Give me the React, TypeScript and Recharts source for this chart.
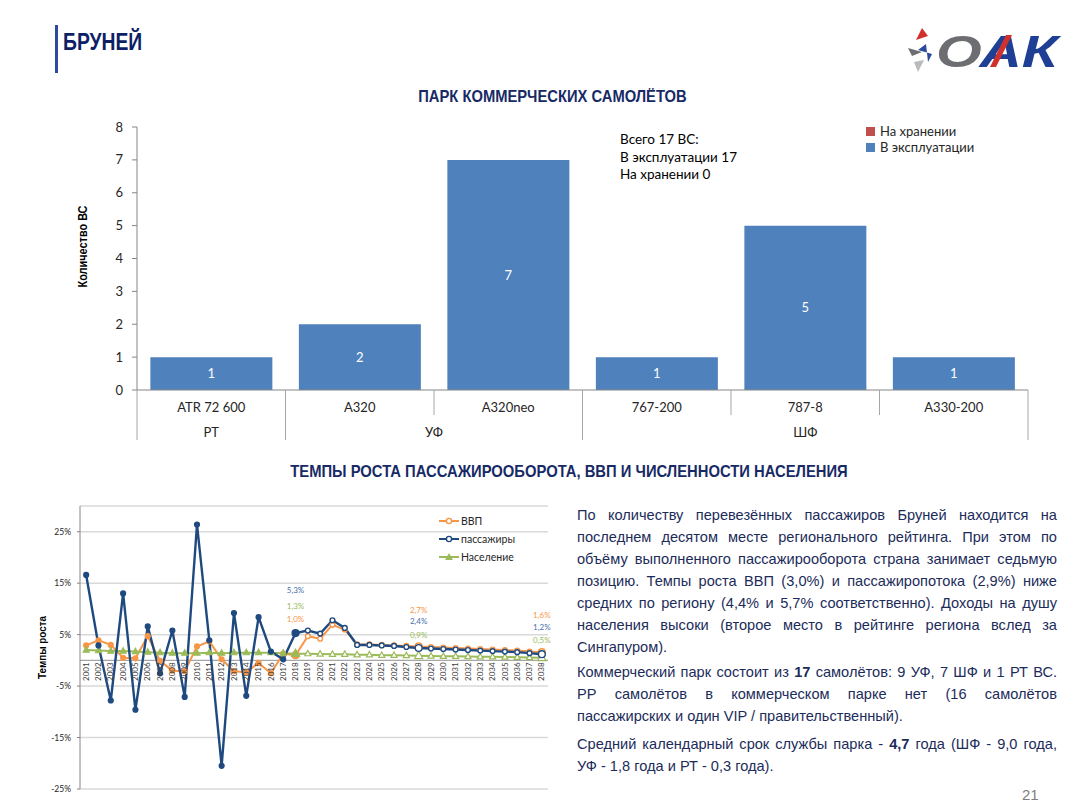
import React from 'react'
import {
  Bar,
  BarChart,
  CartesianGrid,
  LabelList,
  Legend,
  Line,
  LineChart,
  ReferenceLine,
  XAxis,
  YAxis,
} from 'recharts'

// --- fleet chart data ---
const models = ['ATR 72 600', 'A320', 'A320neo', '767-200', '787-8', 'A330-200']
const modelGroups = ['РТ', 'УФ', 'УФ', 'ШФ', 'ШФ', 'ШФ']
const inStorage = [0, 0, 0, 0, 0, 0]
const inService = [1, 2, 7, 1, 5, 1]
const fleetTicks = [0, 1, 2, 3, 4, 5, 6, 7, 8]

// --- growth chart data (%) ---
const years = [
  '2001', '2002', '2003', '2004', '2005', '2006', '2007', '2008', '2009', '2010',
  '2011', '2012', '2013', '2014', '2015', '2016', '2017', '2018', '2019', '2020',
  '2021', '2022', '2023', '2024', '2025', '2026', '2027', '2028', '2029', '2030',
  '2031', '2032', '2033', '2034', '2035', '2036', '2037', '2038',
]
const gdp = [
  2.9, 3.9, 3.0, 0.5, 0.4, 4.7, -0.1, -2.0, -2.1, 2.7,
  3.7, 0.2, -2.1, -2.3, -0.5, -2.5, 1.3, 1.0, 4.7, 4.2,
  6.9, 6.0, 3.1, 3.1, 3.0, 2.9, 2.8, 2.7, 2.6, 2.5,
  2.4, 2.3, 2.2, 2.1, 2.0, 1.9, 1.7, 1.6,
]
const passengers = [
  16.6, 2.9, -7.8, 13.0, -9.6, 6.6, -2.5, 5.8, -7.1, 26.4,
  3.9, -20.5, 9.2, -6.9, 8.4, 1.7, 0.2, 5.3, 5.8, 5.2,
  7.8, 6.3, 3.0, 3.0, 2.9, 2.8, 2.6, 2.4, 2.3, 2.2,
  2.1, 2.0, 1.9, 1.8, 1.7, 1.6, 1.4, 1.2,
]
const population = [
  2.0, 1.9, 1.8, 1.8, 1.7, 1.6, 1.5, 1.4, 1.4, 1.4,
  1.5, 1.4, 1.5, 1.5, 1.5, 1.5, 1.4, 1.3, 1.3, 1.25,
  1.2, 1.2, 1.1, 1.1, 1.0, 1.0, 0.95, 0.9, 0.85, 0.8,
  0.8, 0.75, 0.7, 0.7, 0.65, 0.6, 0.55, 0.5,
]
const growthTicks = [-25, -15, -5, 5, 15, 25]
const growthDomain: [number, number] = [-25, 30]
const firstForecastYear = '2019'
const highlightYears = ['2018', '2028', '2038']

// --- commentary, line by line as laid out on the slide ---
const para1 = [
  'По количеству перевезённых пассажиров Бруней находится на',
  'последнем десятом месте регионального рейтинга. При этом по',
  'объёму выполненного пассажирооборота страна занимает седьмую',
  'позицию. Темпы роста ВВП (3,0%) и пассажиропотока (2,9%) ниже',
  'средних по региону (4,4% и 5,7% соответственно). Доходы на душу',
  'населения высоки (второе место в рейтинге региона вслед за',
  'Сингапуром).',
]
const para2 = [
  'Коммерческий парк состоит из **17** самолётов: 9 УФ, 7 ШФ и 1 РТ ВС.',
  'РР самолётов в коммерческом парке нет (16 самолётов',
  'пассажирских и один VIP / правительственный).',
]
const para3 = [
  'Средний календарный срок службы парка - **4,7** года (ШФ - 9,0 года,',
  'УФ - 1,8 года и РТ - 0,3 года).',
]

const fleetData = models.map((m, i) => ({
  model: m,
  group: modelGroups[i],
  storage: inStorage[i],
  service: inService[i],
}))

const growthData = years.map((y, i) => ({
  year: y,
  gdp: gdp[i],
  passengers: passengers[i],
  population: population[i],
}))

const FONT = 'Lato, "Open Sans", sans-serif'
const ARIAL = '"Liberation Sans", Arial, sans-serif'
const NAVY = '#172a66'

const BLUE = '#1f4a80'
const ORANGE = '#f79646'
const GREEN = '#9bbb59'

// geometry of the growth chart (used to put the year labels on the zero line)
const G_HEIGHT = 301
const G_MARGIN = { top: 12, right: 12, left: 0, bottom: 0 }
const G_XAXIS_H = 6
const G_PLOT_H = G_HEIGHT - G_MARGIN.top - G_MARGIN.bottom - G_XAXIS_H
const ZERO_SHIFT = (G_PLOT_H * (0 - growthDomain[0])) / (growthDomain[1] - growthDomain[0])

const FORECAST_START = years.indexOf(firstForecastYear)

const FLEET_PLOT_W = 1000 - 77 - 32

function ModelTick(props: any) {
  const { x, y, payload, index } = props
  const bw = payload && payload.offset ? payload.offset * 2 : FLEET_PLOT_W / models.length
  const left = x - bw / 2
  const g = modelGroups[index]
  const groupStart = index === 0 || modelGroups[index - 1] !== g
  const isLast = index === models.length - 1
  let span = 1
  while (modelGroups[index + span] === g) span++
  return (
    <g>
      <line x1={left} x2={left} y1={y} y2={groupStart ? y + 50 : y + 25} stroke='#a6a6a6' />
      {isLast && <line x1={left + bw} x2={left + bw} y1={y} y2={y + 50} stroke='#a6a6a6' />}
      <text x={x} y={y + 22} textAnchor='middle' fontSize={13} fill='#262626' fontFamily={FONT}>
        {payload.value}
      </text>
      {groupStart && (
        <text x={left + (span * bw) / 2} y={y + 47} textAnchor='middle' fontSize={13} fill='#262626' fontFamily={FONT}>
          {g}
        </text>
      )}
    </g>
  )
}

function YearTick(props: any) {
  const { x, y, payload } = props
  const ty = y - ZERO_SHIFT + 2
  return (
    <text
      x={x}
      y={ty}
      dy='0.33em'
      transform={`rotate(-90 ${x} ${ty})`}
      textAnchor='end'
      fontSize={8}
      fill='#404040'
      fontFamily={FONT}
    >
      {payload.value}
    </text>
  )
}

function seriesDot(color: string, shape: 'circle' | 'triangle') {
  return (props: any) => {
    const { cx, cy, index } = props
    if (cx == null || cy == null) return <g key={`d${index}`} />
    const hollow = index >= FORECAST_START
    const big = highlightYears.includes(years[index])
    const fill = hollow ? '#ffffff' : color
    if (shape === 'triangle') {
      const w = big ? 4 : 3
      return (
        <polygon
          key={`d${index}`}
          points={`${cx},${cy - w * 1.1} ${cx - w},${cy + w * 0.7} ${cx + w},${cy + w * 0.7}`}
          fill={fill}
          stroke={color}
          strokeWidth={1.2}
        />
      )
    }
    return <circle key={`d${index}`} cx={cx} cy={cy} r={big ? 3.4 : 2.4} fill={fill} stroke={color} strokeWidth={1.4} />
  }
}

const LABEL_DY: Record<string, Record<string, number>> = {
  passengers: { '2018': -43, '2028': -27, '2038': -27 },
  population: { '2018': -48, '2028': -21, '2038': -18 },
  gdp: { '2018': -36, '2028': -36, '2038': -37 },
}
const LABEL_COLOR: Record<string, string> = {
  passengers: '#4a6fae',
  population: '#9bbb59',
  gdp: '#f79646',
}

function pointLabel(key: string) {
  return (props: any) => {
    const { x, y, index, value } = props
    const dy = LABEL_DY[key][years[index]]
    if (dy === undefined || x == null) return null
    return (
      <text x={x} y={y + dy + 3} textAnchor='middle' fontSize={8} fill={LABEL_COLOR[key]} fontFamily={FONT}>
        {Number(value).toFixed(1).replace('.', ',')}%
      </text>
    )
  }
}

const growthLegendOrder = ['gdp', 'passengers', 'population']
const fleetLegendOrder = ['storage', 'service']

function GrowthLegend(props: any) {
  const items = [...(props.payload || [])].sort(
    (a: any, b: any) => growthLegendOrder.indexOf(a.dataKey) - growthLegendOrder.indexOf(b.dataKey)
  )
  return (
    <div style={{ fontFamily: FONT, fontSize: 10.5, color: '#262626' }}>
      {items.map((it: any) => (
        <div key={it.dataKey} style={{ display: 'flex', alignItems: 'center', height: 18 }}>
          <svg width={20} height={10} style={{ marginRight: 2 }}>
            <line x1={0} x2={20} y1={5} y2={5} stroke={it.color} strokeWidth={2} />
            {it.dataKey === 'population' ? (
              <polygon points='10,1 6,8 14,8' fill={it.color} />
            ) : (
              <circle cx={10} cy={5} r={2.6} fill='#fff' stroke={it.color} strokeWidth={1.4} />
            )}
          </svg>
          <span>{it.value}</span>
        </div>
      ))}
    </div>
  )
}

function FleetLegend(props: any) {
  const items = [...(props.payload || [])].sort(
    (a: any, b: any) => fleetLegendOrder.indexOf(a.dataKey) - fleetLegendOrder.indexOf(b.dataKey)
  )
  return (
    <div style={{ fontFamily: FONT, fontSize: 13, color: '#262626' }}>
      {items.map((it: any) => (
        <div key={it.dataKey} style={{ display: 'flex', alignItems: 'center', height: 16 }}>
          <span style={{ width: 9, height: 9, background: it.color, marginRight: 5, display: 'inline-block' }} />
          <span>{it.value}</span>
        </div>
      ))}
    </div>
  )
}

function Logo() {
  return (
    <svg width={170} height={56} style={{ position: 'absolute', left: 898, top: 22 }}>
      <polygon points='24,6 18,18 30,14' fill='#d0312d' />
      <polygon points='28,22 20,28 34,32 30,40' fill='#2a4a9b' />
      <polygon points='10,26 24,30 14,34' fill='#6d6e71' />
      <polygon points='16,40 26,38 20,50' fill='#b8babc' />
      <text
        x={38}
        y={45}
        fontFamily={ARIAL}
        fontWeight={900}
        fontStyle='italic'
        fontSize={44}
        textLength={122}
        lengthAdjust='spacingAndGlyphs'
      >
        <tspan fill='#6d6e71'>О</tspan>
        <tspan fill='#1f3f95'>АК</tspan>
      </text>
      <polygon points='92,45 108,13 114,13 98,45' fill='#d0312d' />
    </svg>
  )
}

function RichLine({ text, last }: { text: string; last: boolean }) {
  const parts = text.split('**')
  return (
    <div
      style={{
        height: 22,
        textAlign: 'justify',
        textAlignLast: last ? 'left' : 'justify',
      }}
    >
      {parts.map((p, i) => (i % 2 ? <b key={i}>{p}</b> : <span key={i}>{p}</span>))}
    </div>
  )
}

function Paragraph({ lines, top }: { lines: string[]; top: number }) {
  return (
    <div
      style={{
        position: 'absolute',
        left: 577,
        top,
        width: 480,
        fontFamily: ARIAL,
        fontSize: 14.6,
        lineHeight: '22px',
        color: '#1c2c5a',
      }}
    >
      {lines.map((l, i) => (
        <RichLine key={i} text={l} last={i === lines.length - 1} />
      ))}
    </div>
  )
}

const narrowTitle = (scale: number): React.CSSProperties => ({
  fontFamily: ARIAL,
  fontWeight: 700,
  transform: `scaleX(${scale})`,
  whiteSpace: 'nowrap',
})

export default function App() {
  return (
    <div
      style={{
        position: 'absolute',
        left: 0,
        top: 0,
        width: 1081,
        height: 808,
        background: '#fff',
        overflow: 'hidden',
      }}
    >
      {/* header */}
      <div style={{ position: 'absolute', left: 55, top: 25, width: 2.5, height: 48, background: '#2e4a9a' }} />
      <div
        style={{
          position: 'absolute',
          left: 63,
          top: 28,
          fontSize: 23,
          color: '#0f1f66',
          lineHeight: '28px',
          transformOrigin: 'left center',
          ...narrowTitle(0.84),
        }}
      >
        БРУНЕЙ
      </div>
      <Logo />

      <div
        style={{
          position: 'absolute',
          left: 0,
          width: 1105,
          top: 87,
          textAlign: 'center',
          fontSize: 17,
          color: NAVY,
          ...narrowTitle(0.867),
        }}
      >
        ПАРК КОММЕРЧЕСКИХ САМОЛЁТОВ
      </div>

      {/* fleet chart */}
      <div style={{ position: 'absolute', left: 60, top: 115 }}>
        <BarChart
          width={1000}
          height={330}
          data={fleetData}
          margin={{ top: 12, right: 32, left: 0, bottom: 0 }}
          barCategoryGap='9%'
        >
          <XAxis
            dataKey='model'
            height={55}
            interval={0}
            tick={<ModelTick />}
            tickLine={false}
            tickSize={0}
            tickMargin={0}
            axisLine={{ stroke: '#868686' }}
          />
          <YAxis
            width={77}
            domain={[0, 8]}
            ticks={fleetTicks}
            interval={0}
            tickSize={5}
            tickMargin={9}
            axisLine={{ stroke: '#868686' }}
            tickLine={{ stroke: '#868686' }}
            tick={{ fontSize: 13, fill: '#262626', fontFamily: FONT }}
            label={({ viewBox }: any) => {
              const cx = viewBox.x + 23
              const cy = viewBox.y + viewBox.height / 2 - 12
              return (
                <text
                  x={cx}
                  y={cy}
                  transform={`rotate(-90 ${cx} ${cy})`}
                  textAnchor='middle'
                  dominantBaseline='central'
                  fontSize={12}
                  fontWeight={700}
                  fill='#000'
                  fontFamily={ARIAL}
                  textLength={82}
                  lengthAdjust='spacingAndGlyphs'
                >
                  Количество ВС
                </text>
              )
            }}
          />
          <Legend
            layout='vertical'
            align='center'
            verticalAlign='middle'
            wrapperStyle={{ left: 806, top: 8, width: 160 }}
            content={<FleetLegend />}
          />
          <Bar dataKey='storage' name='На хранении' stackId='a' fill='#c0504d' isAnimationActive={false} />
          <Bar dataKey='service' name='В эксплуатации' stackId='a' fill='#4f81bd' isAnimationActive={false}>
            <LabelList dataKey='service' position='center' fill='#ffffff' fontSize={13} fontFamily={FONT} />
          </Bar>
        </BarChart>
      </div>

      <div
        style={{
          position: 'absolute',
          left: 620,
          top: 131,
          fontFamily: FONT,
          fontSize: 13.5,
          lineHeight: '17.5px',
          color: '#000',
        }}
      >
        <div>Всего 17 ВС:</div>
        <div>В эксплуатации 17</div>
        <div>На хранении 0</div>
      </div>

      <div
        style={{
          position: 'absolute',
          left: 0,
          width: 1138,
          top: 462,
          textAlign: 'center',
          fontSize: 17,
          color: NAVY,
          ...narrowTitle(0.87),
        }}
      >
        ТЕМПЫ РОСТА ПАССАЖИРООБОРОТА, ВВП И ЧИСЛЕННОСТИ НАСЕЛЕНИЯ
      </div>

      {/* growth chart */}
      <div style={{ position: 'absolute', left: 20, top: 494 }}>
        <LineChart width={540} height={G_HEIGHT} data={growthData} margin={G_MARGIN}>
          <CartesianGrid vertical={false} stroke='#d9d9d9' strokeWidth={1.5} />
          <XAxis
            dataKey='year'
            scale='band'
            height={G_XAXIS_H}
            interval={0}
            axisLine={false}
            tickLine={false}
            tickSize={0}
            tickMargin={0}
            tick={<YearTick />}
          />
          <YAxis
            width={60}
            domain={growthDomain}
            ticks={growthTicks}
            interval={0}
            allowDataOverflow
            tickSize={3}
            tickMargin={6}
            axisLine={{ stroke: '#868686' }}
            tickLine={{ stroke: '#868686' }}
            tickFormatter={(v: number) => `${v}%`}
            tick={{ fontSize: 8.5, fill: '#262626', fontFamily: FONT }}
            label={({ viewBox }: any) => {
              const cx = viewBox.x + 22
              const cy = viewBox.y + viewBox.height / 2
              return (
                <text
                  x={cx}
                  y={cy}
                  transform={`rotate(-90 ${cx} ${cy})`}
                  textAnchor='middle'
                  dominantBaseline='central'
                  fontSize={11}
                  fontWeight={700}
                  fill='#000'
                  fontFamily={ARIAL}
                  textLength={63}
                  lengthAdjust='spacingAndGlyphs'
                >
                  Темпы роста
                </text>
              )
            }}
          />
          <ReferenceLine y={0} stroke='#a6a6a6' strokeWidth={1.2} />
          <Legend
            layout='vertical'
            align='center'
            verticalAlign='middle'
            wrapperStyle={{ left: 419, top: 18, width: 110 }}
            content={<GrowthLegend />}
          />
          <Line
            dataKey='gdp'
            name='ВВП'
            stroke={ORANGE}
            strokeWidth={2}
            dot={seriesDot(ORANGE, 'circle')}
            isAnimationActive={false}
          >
            <LabelList dataKey='gdp' content={pointLabel('gdp')} />
          </Line>
          <Line
            dataKey='population'
            name='Население'
            stroke={GREEN}
            strokeWidth={2}
            dot={seriesDot(GREEN, 'triangle')}
            isAnimationActive={false}
          >
            <LabelList dataKey='population' content={pointLabel('population')} />
          </Line>
          <Line
            dataKey='passengers'
            name='пассажиры'
            stroke={BLUE}
            strokeWidth={2.4}
            dot={seriesDot(BLUE, 'circle')}
            isAnimationActive={false}
          >
            <LabelList dataKey='passengers' content={pointLabel('passengers')} />
          </Line>
        </LineChart>
      </div>

      {/* commentary */}
      <Paragraph lines={para1} top={504} />
      <Paragraph lines={para2} top={661} />
      <Paragraph lines={para3} top={733} />

      <div
        style={{
          position: 'absolute',
          left: 1022,
          top: 786,
          fontFamily: ARIAL,
          fontSize: 15,
          color: '#7f7f7f',
        }}
      >
        21
      </div>
    </div>
  )
}
